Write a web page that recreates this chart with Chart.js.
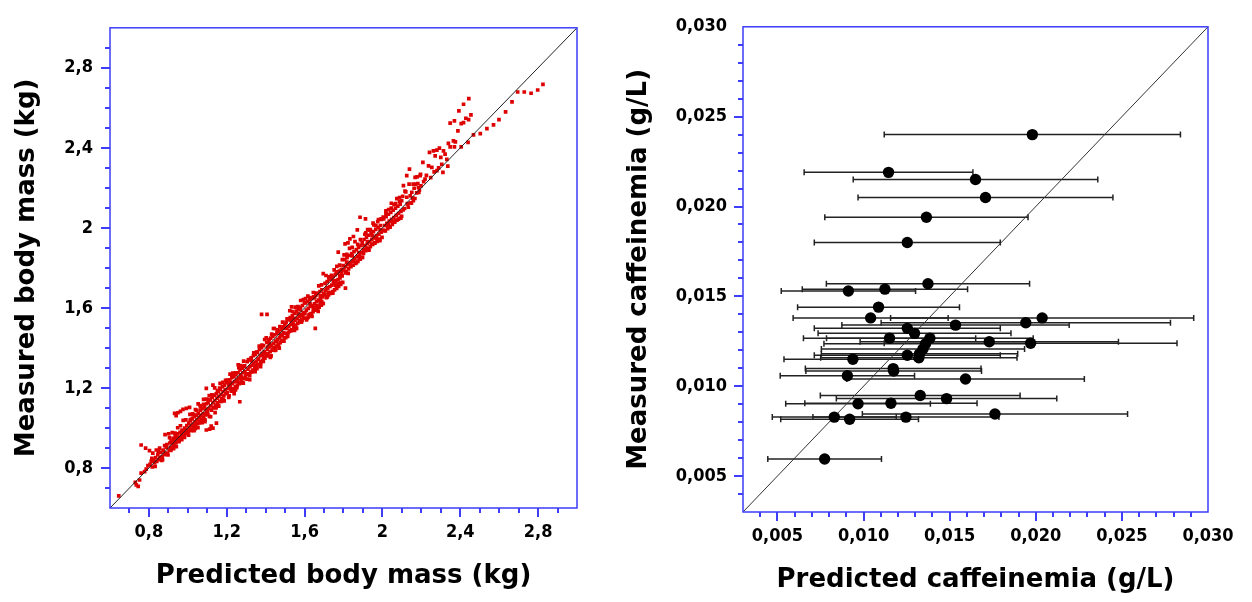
<!DOCTYPE html>
<html>
<head>
<meta charset="utf-8">
<script src="https://cdn.jsdelivr.net/npm/chart.js@4.4.1/dist/chart.umd.min.js"></script>
<style>
body { margin:0; background:#fff; }
.box { position:absolute; top:0; }
</style>
</head>
<body>
<div class="box" style="left:0"><canvas id="mass" width="600" height="602"></canvas></div>
<div class="box" style="left:600px"><canvas id="caff" width="652" height="602"></canvas></div>
<script>
// left panel : body mass (kg)
const predictedMass = [
	0.645, 0.730, 0.735, 0.745, 0.752, 0.760, 0.778, 0.786, 0.795, 0.760, 0.783, 0.803,
	0.820, 0.838, 0.855, 0.806, 0.812, 0.817, 0.823, 0.829, 0.834, 0.840,
	0.846, 0.851, 0.857, 0.862, 0.868, 0.873, 0.879, 0.884, 0.889, 0.895,
	0.883, 0.902, 0.870, 0.892,
	0.904, 0.907, 0.911, 0.914, 0.918, 0.921, 0.925, 0.928, 0.932, 0.935,
	0.939, 0.942, 0.946, 0.949, 0.953, 0.956, 0.960, 0.963, 0.967, 0.970,
	0.974, 0.977, 0.981, 0.984, 0.988, 0.991, 0.995, 0.998, 0.932, 0.949,
	0.962, 0.975, 0.992, 0.940,
	1.002, 1.005, 1.009, 1.012, 1.016, 1.019, 1.023, 1.026, 1.030, 1.033,
	1.037, 1.040, 1.044, 1.047, 1.051, 1.054, 1.058, 1.061, 1.065, 1.068,
	1.072, 1.075, 1.079, 1.082, 1.086, 1.089, 1.093, 1.096, 1.009, 1.028,
	1.046, 1.063, 1.081, 1.097, 1.015, 1.052, 1.070, 1.038, 1.088, 1.095,
	1.101, 1.104, 1.108, 1.111, 1.115, 1.118, 1.122, 1.125, 1.129, 1.132,
	1.136, 1.139, 1.143, 1.146, 1.150, 1.153, 1.157, 1.160, 1.164, 1.167,
	1.171, 1.174, 1.178, 1.181, 1.185, 1.188, 1.192, 1.195, 1.199, 1.112,
	1.129, 1.147, 1.120, 1.095, 1.129, 1.108, 1.140, 1.163, 1.182, 1.155,
	1.202, 1.205, 1.209, 1.212, 1.216, 1.219, 1.223, 1.226, 1.230, 1.233,
	1.237, 1.240, 1.244, 1.247, 1.251, 1.254, 1.258, 1.261, 1.265, 1.268,
	1.272, 1.275, 1.279, 1.282, 1.286, 1.289, 1.293, 1.296, 1.267, 1.245,
	1.285, 1.210, 1.228, 1.256, 1.274, 1.292, 1.238, 1.262, 1.218, 1.299,
	1.302, 1.305, 1.309, 1.312, 1.316, 1.319, 1.323, 1.326, 1.330, 1.333,
	1.337, 1.340, 1.344, 1.347, 1.351, 1.354, 1.358, 1.361, 1.365, 1.368,
	1.372, 1.375, 1.379, 1.382, 1.386, 1.389, 1.393, 1.396, 1.379, 1.407,
	1.318, 1.336, 1.355, 1.373, 1.391, 1.328, 1.346, 1.364, 1.384, 1.399,
	1.402, 1.405, 1.409, 1.412, 1.416, 1.419, 1.423, 1.426, 1.430, 1.433,
	1.437, 1.440, 1.444, 1.447, 1.451, 1.454, 1.458, 1.461, 1.465, 1.468,
	1.472, 1.475, 1.479, 1.482, 1.486, 1.489, 1.493, 1.496, 1.440, 1.470,
	1.418, 1.428, 1.448, 1.463, 1.485, 1.499, 1.411, 1.456, 1.477, 1.492,
	1.502, 1.505, 1.509, 1.512, 1.516, 1.519, 1.523, 1.526, 1.530, 1.533,
	1.537, 1.540, 1.544, 1.547, 1.551, 1.554, 1.558, 1.561, 1.565, 1.568,
	1.572, 1.575, 1.579, 1.582, 1.586, 1.589, 1.593, 1.596, 1.533, 1.513,
	1.528, 1.548, 1.566, 1.584, 1.599, 1.521, 1.556, 1.577, 1.591, 1.542,
	1.602, 1.605, 1.609, 1.612, 1.616, 1.619, 1.623, 1.626, 1.630, 1.633,
	1.637, 1.640, 1.644, 1.647, 1.651, 1.654, 1.658, 1.661, 1.665, 1.668,
	1.672, 1.675, 1.679, 1.682, 1.686, 1.689, 1.693, 1.696, 1.655, 1.605,
	1.618, 1.636, 1.652, 1.670, 1.688, 1.628, 1.663, 1.681, 1.699, 1.645,
	1.702, 1.705, 1.709, 1.712, 1.716, 1.719, 1.723, 1.726, 1.730, 1.733,
	1.737, 1.740, 1.744, 1.747, 1.751, 1.754, 1.758, 1.761, 1.765, 1.768,
	1.772, 1.775, 1.779, 1.782, 1.786, 1.789, 1.793, 1.796, 1.696, 1.773,
	1.715, 1.729, 1.748, 1.763, 1.781, 1.798, 1.721, 1.756, 1.790, 1.810,
	1.802, 1.806, 1.810, 1.814, 1.818, 1.822, 1.826, 1.830, 1.834, 1.838,
	1.842, 1.846, 1.850, 1.854, 1.858, 1.862, 1.866, 1.870, 1.874, 1.878,
	1.882, 1.886, 1.890, 1.894, 1.898, 1.808, 1.833, 1.851, 1.871, 1.885,
	1.913, 1.823, 1.816, 1.845, 1.878, 1.896,
	1.902, 1.906, 1.910, 1.914, 1.918, 1.922, 1.926, 1.930, 1.934, 1.938,
	1.942, 1.946, 1.950, 1.954, 1.958, 1.962, 1.966, 1.970, 1.974, 1.978,
	1.982, 1.986, 1.990, 1.994, 1.998, 1.915, 1.936, 1.956, 1.976, 1.995,
	1.925, 1.948, 1.968, 1.988,
	2.003, 2.007, 2.011, 2.015, 2.019, 2.023, 2.027, 2.031, 2.035, 2.039,
	2.043, 2.047, 2.051, 2.055, 2.059, 2.063, 2.067, 2.071, 2.075, 2.079,
	2.083, 2.087, 2.091, 2.095, 2.099, 2.018, 2.045, 2.068, 2.088, 2.030,
	2.099, 2.108, 2.125, 2.133, 2.151, 2.159, 2.125, 2.139, 2.168, 2.185,
	2.194, 2.104, 2.114, 2.120, 2.130, 2.143, 2.156, 2.163, 2.176, 2.182,
	2.190, 2.198, 2.147, 2.171,
	2.208, 2.219, 2.237, 2.254, 2.280, 2.311, 2.336, 2.242, 2.262, 2.280,
	2.293, 2.314, 2.322, 2.271, 2.300, 2.331, 2.212, 2.226, 2.248, 2.266,
	2.289, 2.305,
	2.444, 2.417, 2.393, 2.455, 2.348, 2.370, 2.405, 2.417, 2.429, 2.443,
	2.388, 2.339, 2.365, 2.375, 2.348, 2.370, 2.405, 2.440, 2.468, 2.503,
	2.537, 2.571, 2.599, 2.633, 2.666, 2.695, 2.729, 2.764, 2.798, 2.825,
	// outer edge of the band
	0.815, 0.832, 0.848, 0.866, 0.881, 0.898,
	0.906, 0.913, 0.920, 0.927, 0.934, 0.941, 0.948, 0.955, 0.962, 0.969, 0.976, 0.983, 0.990, 0.997,
	1.004, 1.011, 1.018, 1.025, 1.032, 1.039, 1.046, 1.053, 1.060, 1.067, 1.074, 1.081, 1.088, 1.095,
	1.103, 1.110, 1.117, 1.124, 1.131, 1.138, 1.145, 1.152, 1.159, 1.166, 1.173, 1.180, 1.187, 1.194,
	1.203, 1.210, 1.217, 1.224, 1.231, 1.238, 1.245, 1.252, 1.259, 1.266, 1.273, 1.280, 1.287, 1.294,
	1.304, 1.311, 1.318, 1.325, 1.332, 1.339, 1.346, 1.353, 1.360, 1.367, 1.374, 1.381, 1.388, 1.395,
	1.403, 1.410, 1.417, 1.424, 1.431, 1.438, 1.445, 1.452, 1.459, 1.466, 1.473, 1.480, 1.487, 1.494,
	1.503, 1.510, 1.517, 1.524, 1.531, 1.538, 1.545, 1.552, 1.559, 1.566, 1.573, 1.580, 1.587, 1.594,
	1.603, 1.610, 1.617, 1.624, 1.631, 1.638, 1.645, 1.652, 1.659, 1.666, 1.673, 1.680, 1.687, 1.694,
	1.703, 1.710, 1.717, 1.724, 1.731, 1.738, 1.745, 1.752, 1.759, 1.766, 1.773, 1.780, 1.787, 1.794,
	1.803, 1.810, 1.817, 1.824, 1.831, 1.838, 1.845, 1.852, 1.859, 1.866, 1.873, 1.880, 1.887, 1.894,
	1.903, 1.910, 1.917, 1.924, 1.931, 1.938, 1.945, 1.952, 1.959, 1.966, 1.973, 1.980, 1.987, 1.994,
	2.004, 2.011, 2.018, 2.025, 2.032, 2.039, 2.046, 2.053, 2.060, 2.067, 2.074, 2.081, 2.088, 2.095,
	2.106, 2.116, 2.128, 2.137, 2.149, 2.158, 2.167, 2.178, 2.187, 2.196
];
const measuredMass = [
	0.661, 0.728, 0.716, 0.708, 0.740, 0.774, 0.782, 0.794, 0.812, 0.915, 0.899, 0.887,
	0.874, 0.890, 0.899, 0.818, 0.834, 0.805, 0.841, 0.826, 0.852, 0.833,
	0.866, 0.842, 0.851, 0.878, 0.856, 0.889, 0.867, 0.874, 0.903, 0.872,
	0.967, 0.971, 0.842, 0.917,
	0.889, 0.925, 0.903, 0.938, 0.899, 0.922, 0.948, 0.913, 0.931, 0.960,
	0.925, 0.949, 0.971, 0.936, 0.955, 0.940, 0.978, 0.951, 0.966, 0.990,
	0.958, 0.980, 0.963, 0.999, 0.976, 0.992, 1.012, 0.982, 1.073, 1.076,
	1.083, 1.093, 1.098, 1.062,
	0.983, 1.024, 0.998, 1.038, 1.011, 0.993, 1.047, 1.020, 1.005, 1.056,
	1.031, 1.013, 1.064, 1.042, 1.022, 1.072, 1.050, 1.033, 1.089, 1.063,
	1.044, 1.097, 1.071, 1.052, 1.108, 1.066, 1.093, 1.078, 1.103, 1.066,
	1.088, 1.112, 1.118, 1.121, 1.042, 1.001, 1.031, 0.996, 1.040, 0.990,
	1.082, 1.128, 1.097, 1.058, 1.142, 1.111, 1.089, 1.153, 1.127, 1.101,
	1.163, 1.137, 1.114, 1.171, 1.149, 1.126, 1.182, 1.158, 1.133, 1.193,
	1.167, 1.146, 1.207, 1.181, 1.160, 1.214, 1.192, 1.171, 1.226, 0.994,
	0.999, 1.024, 1.010, 1.198, 1.214, 1.140, 1.077, 1.199, 1.140, 1.110,
	1.176, 1.231, 1.197, 1.161, 1.240, 1.209, 1.184, 1.251, 1.223, 1.196,
	1.257, 1.231, 1.205, 1.266, 1.239, 1.213, 1.276, 1.249, 1.221, 1.291,
	1.265, 1.238, 1.299, 1.276, 1.247, 1.306, 1.282, 1.256, 1.131, 1.190,
	1.224, 1.215, 1.262, 1.232, 1.254, 1.310, 1.189, 1.301, 1.225, 1.270,
	1.268, 1.331, 1.294, 1.271, 1.342, 1.306, 1.279, 1.350, 1.314, 1.288,
	1.361, 1.324, 1.297, 1.368, 1.333, 1.304, 1.378, 1.344, 1.316, 1.392,
	1.361, 1.323, 1.401, 1.372, 1.338, 1.411, 1.380, 1.349, 1.568, 1.568,
	1.262, 1.288, 1.296, 1.331, 1.352, 1.335, 1.310, 1.344, 1.365, 1.372,
	1.362, 1.428, 1.393, 1.371, 1.439, 1.406, 1.381, 1.449, 1.414, 1.389,
	1.457, 1.423, 1.401, 1.466, 1.434, 1.409, 1.474, 1.443, 1.418, 1.483,
	1.451, 1.426, 1.492, 1.461, 1.437, 1.506, 1.476, 1.451, 1.497, 1.399,
	1.421, 1.360, 1.388, 1.481, 1.468, 1.515, 1.404, 1.431, 1.463, 1.497,
	1.472, 1.528, 1.498, 1.466, 1.541, 1.507, 1.484, 1.552, 1.517, 1.491,
	1.561, 1.528, 1.502, 1.573, 1.539, 1.511, 1.584, 1.548, 1.522, 1.596,
	1.557, 1.531, 1.603, 1.566, 1.541, 1.612, 1.577, 1.549, 1.605, 1.458,
	1.537, 1.487, 1.571, 1.529, 1.626, 1.545, 1.498, 1.590, 1.560, 1.548,
	1.571, 1.625, 1.589, 1.548, 1.632, 1.598, 1.563, 1.641, 1.607, 1.572,
	1.647, 1.612, 1.581, 1.655, 1.621, 1.589, 1.664, 1.631, 1.598, 1.672,
	1.639, 1.604, 1.681, 1.648, 1.614, 1.690, 1.655, 1.622, 1.498, 1.646,
	1.552, 1.566, 1.650, 1.583, 1.632, 1.620, 1.611, 1.660, 1.671, 1.597,
	1.668, 1.723, 1.689, 1.651, 1.731, 1.697, 1.665, 1.741, 1.707, 1.673,
	1.748, 1.714, 1.681, 1.757, 1.722, 1.690, 1.766, 1.731, 1.698, 1.775,
	1.741, 1.708, 1.784, 1.750, 1.718, 1.793, 1.760, 1.728, 1.771, 1.879,
	1.702, 1.745, 1.733, 1.780, 1.763, 1.812, 1.676, 1.737, 1.775, 1.699,
	1.790, 1.842, 1.808, 1.781, 1.851, 1.816, 1.795, 1.862, 1.827, 1.806,
	1.871, 1.835, 1.814, 1.881, 1.846, 1.822, 1.891, 1.857, 1.833, 1.902,
	1.866, 1.844, 1.912, 1.876, 1.853, 1.920, 1.945, 1.957, 1.990, 2.053,
	2.045, 1.925, 1.829, 1.860, 1.877, 1.925,
	1.891, 1.942, 1.912, 1.886, 1.953, 1.921, 1.897, 1.963, 1.931, 1.906,
	1.972, 1.941, 1.917, 1.981, 1.951, 1.925, 1.992, 1.960, 1.935, 2.003,
	1.969, 1.944, 2.012, 1.979, 1.953, 1.975, 1.989, 2.015, 2.031, 2.042,
	1.930, 1.961, 1.948, 1.990,
	1.989, 2.045, 2.012, 1.985, 2.056, 2.023, 1.996, 2.068, 2.034, 2.006,
	2.077, 2.043, 2.017, 2.088, 2.052, 2.028, 2.098, 2.063, 2.038, 2.108,
	2.072, 2.047, 2.119, 2.082, 2.058, 2.072, 2.099, 2.121, 2.133, 2.020,
	2.136, 2.211, 2.153, 2.103, 2.178, 2.136, 2.261, 2.294, 2.252, 2.202,
	2.261, 2.158, 2.097, 2.180, 2.121, 2.160, 2.149, 2.198, 2.175, 2.222,
	2.188, 2.210, 2.125, 2.219,
	2.327, 2.244, 2.310, 2.302, 2.286, 2.277, 2.309, 2.377, 2.385, 2.389,
	2.399, 2.385, 2.369, 2.360, 2.352, 2.342, 2.231, 2.262, 2.251, 2.280,
	2.300, 2.318,
	2.646, 2.618, 2.585, 2.565, 2.524, 2.535, 2.521, 2.526, 2.548, 2.541,
	2.485, 2.422, 2.435, 2.430, 2.405, 2.405, 2.405, 2.427, 2.465, 2.471,
	2.496, 2.515, 2.541, 2.580, 2.630, 2.679, 2.679, 2.673, 2.689, 2.717,
	// outer edge of the band
	0.848, 0.808, 0.881, 0.838, 0.912, 0.865,
	0.952, 0.888, 0.977, 0.896, 0.974, 0.906, 1.001, 0.932, 1.011, 0.942, 1.038, 0.953, 1.040, 0.972,
	0.964, 1.068, 0.987, 1.071, 0.987, 1.092, 1.023, 1.120, 1.025, 1.107, 1.027, 1.143, 1.032, 1.144,
	1.067, 1.162, 1.056, 1.165, 1.103, 1.200, 1.100, 1.187, 1.109, 1.223, 1.133, 1.228, 1.135, 1.238,
	1.239, 1.153, 1.269, 1.191, 1.274, 1.172, 1.275, 1.202, 1.316, 1.225, 1.312, 1.225, 1.334, 1.249,
	1.244, 1.340, 1.242, 1.345, 1.281, 1.376, 1.281, 1.379, 1.317, 1.409, 1.307, 1.414, 1.333, 1.442,
	1.450, 1.360, 1.442, 1.353, 1.469, 1.400, 1.497, 1.390, 1.490, 1.411, 1.507, 1.434, 1.529, 1.434,
	1.451, 1.545, 1.477, 1.586, 1.486, 1.582, 1.517, 1.604, 1.498, 1.607, 1.537, 1.637, 1.537, 1.642,
	1.627, 1.540, 1.659, 1.568, 1.652, 1.557, 1.677, 1.604, 1.674, 1.601, 1.710, 1.620, 1.715, 1.622,
	1.665, 1.762, 1.655, 1.755, 1.676, 1.763, 1.674, 1.790, 1.713, 1.808, 1.723, 1.814, 1.727, 1.841,
	1.865, 1.775, 1.868, 1.773, 1.898, 1.812, 1.903, 1.834, 1.931, 1.826, 1.918, 1.850, 1.941, 1.852,
	1.873, 1.968, 1.899, 1.991, 1.889, 1.992, 1.919, 2.024, 1.924, 2.011, 1.933, 2.042, 1.936, 2.045,
	2.054, 1.986, 2.085, 2.012, 2.091, 2.004, 2.123, 2.032, 2.116, 2.037, 2.146, 2.044, 2.151, 2.049,
	2.090, 2.184, 2.120, 2.219, 2.124, 2.219, 2.147, 2.255, 2.177, 2.268
];
const massRange = [0.6, 3.0];

// right panel : caffeinemia (g/L), symmetric horizontal error bars
const predictedCaf = [
	0.0198, 0.01145, 0.0165, 0.01708, 0.01365, 0.01254, 0.01374, 0.01124, 0.00912, 0.01087,
	0.01041, 0.02037, 0.01942, 0.01534, 0.01254, 0.01296, 0.01151, 0.01385, 0.0173, 0.0197,
	0.0136, 0.01345, 0.01325, 0.01254, 0.01321, 0.00938, 0.01172, 0.01175, 0.00906, 0.01592,
	0.01329, 0.01482, 0.00968, 0.01159, 0.01763, 0.0083, 0.00919, 0.01246, 0.00774
];
const measuredCaf = [
	0.0240, 0.0219, 0.0215, 0.0205, 0.0194, 0.0180, 0.0157, 0.0154, 0.0153, 0.0144,
	0.0138, 0.0138, 0.01353, 0.0134, 0.01322, 0.01294, 0.01267, 0.01267, 0.01247, 0.01239,
	0.01236, 0.01207, 0.0118, 0.01172, 0.01158, 0.0115, 0.01098, 0.01085, 0.01058, 0.0104,
	0.00948, 0.00931, 0.00902, 0.00905, 0.00845, 0.00828, 0.00816, 0.00828, 0.00595
];
const errCaf = [
	0.0086, 0.0049, 0.0071, 0.0074, 0.0059, 0.0054, 0.0059, 0.0048, 0.0039, 0.0047,
	0.0045, 0.0088, 0.0084, 0.0066, 0.0054, 0.0056, 0.0050, 0.0060, 0.0075, 0.0085,
	0.0059, 0.0059, 0.0057, 0.0054, 0.0057, 0.0040, 0.0051, 0.0051, 0.0039, 0.0069,
	0.0058, 0.0064, 0.0042, 0.0050, 0.0077, 0.0036, 0.0040, 0.0054, 0.0033
];
const cafRange = [0.003, 0.030];

const BLUE = '#3d3dfa';
const TICKFONT = {family:"'DejaVu Sans Condensed', 'DejaVu Sans', sans-serif", size:18, weight:'bold'};
const TITLEFONT = {family:"'DejaVu Sans', sans-serif", size:26, weight:'bold'};

// blue box round the plot + outside ticks (long on labelled ones)
const frame = {
	id: 'frame',
	afterDraw(chart) {
		const {ctx, chartArea:a, scales} = chart;
		ctx.save();
		ctx.strokeStyle = BLUE;
		ctx.lineWidth = 1.5;
		ctx.strokeRect(a.left, a.top, a.right - a.left, a.bottom - a.top);
		ctx.lineWidth = 2;
		ctx.beginPath();
		scales.x.ticks.forEach((t, i, arr) => {
			if (i == 0 || i == arr.length - 1) return;
			const p = Math.round(scales.x.getPixelForValue(t.value));
			ctx.moveTo(p, a.bottom);
			ctx.lineTo(p, a.bottom + (t.label ? 9 : 5));
		});
		scales.y.ticks.forEach((t, i, arr) => {
			if (i == 0 || i == arr.length - 1) return;
			const p = Math.round(scales.y.getPixelForValue(t.value));
			ctx.moveTo(a.left, p);
			ctx.lineTo(a.left - (t.label ? 9 : 5), p);
		});
		ctx.stroke();
		ctx.restore();
	}
};

const axis = (range, step, fmt, title, size, pad, tpad) => ({
	type: 'linear',
	min: range[0],
	max: range[1],
	ticks: {stepSize:step, autoSkip:false, maxRotation:0, callback:fmt, font:TICKFONT, color:'#000', padding:pad},
	grid: {display:false, drawTicks:false},
	border: {display:false},
	title: {display:true, text:title, font:TITLEFONT, color:'#000', padding:tpad},
	afterFit: s => { if (s.isHorizontal()) s.height = size; else s.width = size; }
});

const fmtMass = v => {
	const k = Math.round(v * 10);
	return k % 4 == 0 ? String(k / 10).replace('.', ',') : '';
};
const fmtCaf = v => {
	const k = Math.round(v * 1000);
	return k % 5 == 0 ? (k / 1000).toFixed(3).replace('.', ',') : '';
};

new Chart(document.getElementById('mass'), {
	type: 'scatter',
	data: {
		datasets: [
			{
				data: [{x:massRange[0], y:massRange[0]}, {x:massRange[1], y:massRange[1]}],
				showLine: true, borderColor:'#222', borderWidth:1, pointRadius:0
			},
			{
				data: predictedMass.map((x, i) => ({x, y:measuredMass[i]})),
				pointStyle:'rect', pointRadius:2.6, pointBackgroundColor:'#de0000', pointBorderWidth:0
			}
		]
	},
	options: {
		responsive:false, animation:false, devicePixelRatio:1,
		layout: {padding:{top:27, right:23, left:0, bottom:0}},
		plugins: {legend:{display:false}, tooltip:{enabled:false}},
		scales: {
			x: axis(massRange, 0.1, fmtMass, 'Predicted body mass (kg)', 94, 14, {top:0, bottom:10}),
			y: axis(massRange, 0.1, fmtMass, 'Measured body mass (kg)', 110, 17, {top:12, bottom:0})
		}
	},
	plugins: [frame]
});

const bars = predictedCaf.map((x, i) => ({
	data: [{x:x - errCaf[i], y:measuredCaf[i]}, {x:x + errCaf[i], y:measuredCaf[i]}],
	showLine: true, borderColor:'#222', borderWidth:1.5,
	pointStyle:'line', pointRotation:90, pointRadius:3, pointBorderColor:'#222', pointBorderWidth:1.5
}));

new Chart(document.getElementById('caff'), {
	type: 'scatter',
	data: {
		datasets: [
			{
				data: predictedCaf.map((x, i) => ({x, y:measuredCaf[i]})),
				pointRadius:5.7, pointBackgroundColor:'#000', pointBorderWidth:0
			},
			{
				data: [{x:cafRange[0], y:cafRange[0]}, {x:cafRange[1], y:cafRange[1]}],
				showLine: true, borderColor:'#333', borderWidth:1, pointRadius:0
			},
			...bars
		]
	},
	options: {
		responsive:false, animation:false, devicePixelRatio:1,
		layout: {padding:{top:22, right:44, left:0, bottom:0}},
		plugins: {legend:{display:false}, tooltip:{enabled:false}},
		scales: {
			x: axis(cafRange, 0.001, fmtCaf, 'Predicted caffeinemia (g/L)', 90, 14, {top:0, bottom:6}),
			y: axis(cafRange, 0.001, fmtCaf, 'Measured caffeinemia (g/L)', 143, 16, {top:24, bottom:0})
		}
	},
	plugins: [frame]
});
</script>
</body>
</html>
